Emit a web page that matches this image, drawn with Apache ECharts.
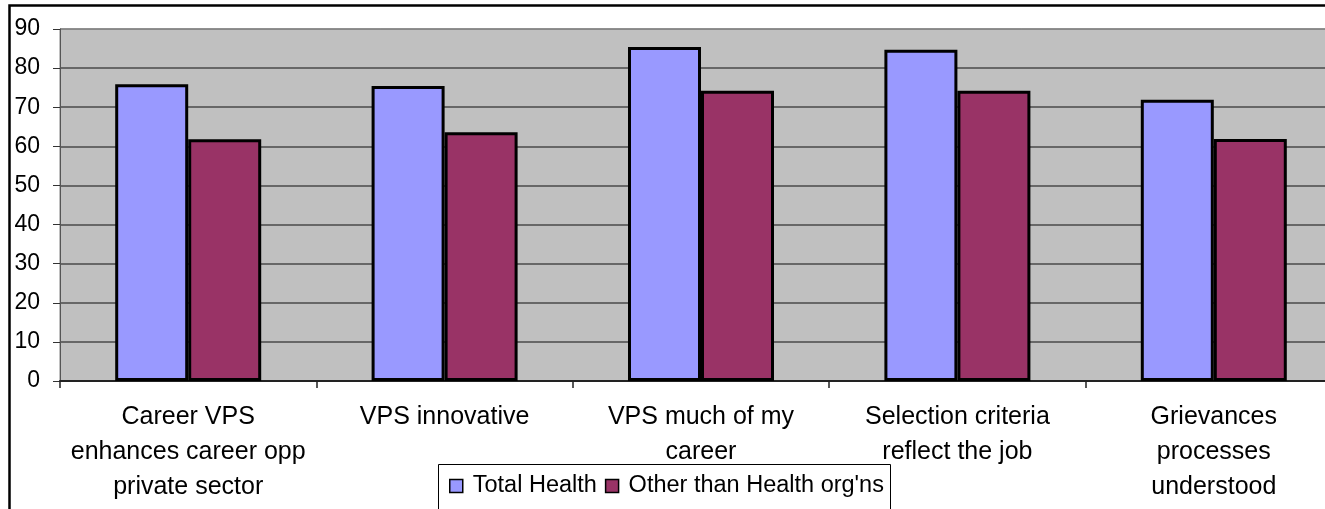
<!DOCTYPE html>
<html>
<head>
<meta charset="utf-8">
<script src="https://cdn.jsdelivr.net/npm/echarts@6/dist/echarts.min.js"></script>
<style>
html,body{margin:0;padding:0;background:#fff;overflow:hidden;width:1325px;height:509px;}
#c{width:1342px;height:509px;}
</style>
</head>
<body>
<div id="c"></div>
<script>
var categories = [
  'Career VPS\nenhances career opp\nprivate sector',
  'VPS innovative',
  'VPS much of my\ncareer',
  'Selection criteria\nreflect the job',
  'Grievances\nprocesses\nunderstood'
];
var seriesNames = ['Total Health', "Other than Health org'ns"];
var totalHealth = [75.9, 75.4, 85.4, 84.7, 71.9];
var otherThanHealth = [61.8, 63.6, 74.2, 74.2, 61.9];
var yTicks = { min: 0, max: 90, interval: 10 };

var font = 'Liberation Sans, Arial, sans-serif';
var chart = echarts.init(document.getElementById('c'), null, { renderer: 'canvas' });
var splitColors = ['#222'];
for (var i = 1; i < 9; i++) splitColors.push('#4a4a4a');
splitColors.push('#808080');

chart.setOption({
  animation: false,
  backgroundColor: '#ffffff',
  textStyle: { fontFamily: font },
  graphic: [
    {
      type: 'rect', z: 100, silent: true,
      shape: { x: 9.5, y: 5.5, width: 1400, height: 600 },
      style: { fill: 'none', stroke: '#000', lineWidth: 2.5 }
    },
    {
      type: 'rect', z: 100, silent: true,
      shape: { x: 438.5, y: 464.5, width: 452, height: 80 },
      style: { fill: 'none', stroke: '#000', lineWidth: 1 }
    }
  ],
  grid: {
    left: 60, top: 29, right: 0, bottom: 128,
    show: true, backgroundColor: '#C0C0C0', borderColor: '#808080', borderWidth: 1,
    containLabel: false
  },
  legend: {
    data: seriesNames,
    left: 449, top: 474,
    itemWidth: 13, itemHeight: 13, itemGap: 8,
    padding: 0,
    icon: 'rect',
    itemStyle: { borderColor: '#000', borderWidth: 1.5 },
    textStyle: { fontSize: 23.5, color: '#000', fontFamily: font, padding: [0, 0, 0, 5] }
  },
  xAxis: {
    type: 'category',
    data: categories,
    axisLine: { show: true, lineStyle: { color: '#222', width: 2 } },
    axisTick: { show: true, length: 7, lineStyle: { color: '#222', width: 1.5 } },
    axisLabel: { fontSize: 25, color: '#000', lineHeight: 35, margin: 19, interval: 0, fontFamily: font }
  },
  yAxis: {
    type: 'value',
    min: yTicks.min, max: yTicks.max, interval: yTicks.interval,
    axisLine: { show: true, lineStyle: { color: '#555', width: 1 } },
    axisTick: { show: true, length: 7, lineStyle: { color: '#333' } },
    axisLabel: { fontSize: 23, color: '#000', margin: 20, fontFamily: font },
    splitLine: { show: true, lineStyle: { color: splitColors, width: 1.5 } }
  },
  series: [
    {
      name: seriesNames[0], type: 'bar', data: totalHealth,
      barWidth: 73, barGap: '0%',
      itemStyle: { color: '#9999FF', borderColor: '#000', borderWidth: 3 }
    },
    {
      name: seriesNames[1], type: 'bar', data: otherThanHealth,
      barWidth: 73,
      itemStyle: { color: '#993366', borderColor: '#000', borderWidth: 3 }
    }
  ]
});
</script>
</body>
</html>
